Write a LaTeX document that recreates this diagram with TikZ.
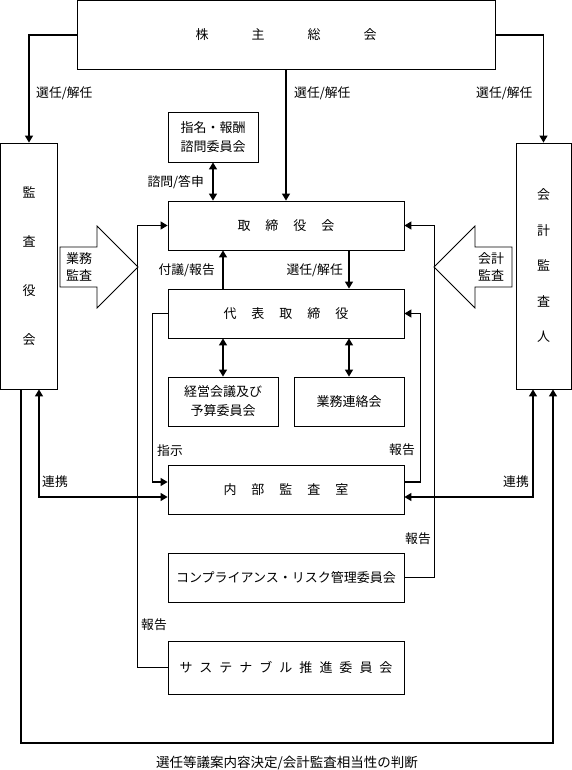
\documentclass[tikz,border=0pt]{standalone}
\usepackage{fontspec}
\setmainfont{Noto Sans CJK JP}
\usetikzlibrary{arrows.meta,calc}

\tikzset{
  box/.style={draw, line width=0.8pt, minimum width=236pt, minimum height=49pt,
    inner sep=0pt, font=\fontsize{13}{16}\selectfont},
  conn/.style={line width=1.2pt, -{Triangle[length=7pt,width=8pt]}},
  biconn/.style={line width=1.2pt, {Triangle[length=7pt,width=8pt]}-{Triangle[length=7pt,width=8pt]}},
  plain/.style={line width=1.2pt},
  lbl/.style={font=\fontsize{12.8}{15}\selectfont, inner sep=0pt},
  blockarrow/.style={draw, line width=0.8pt, fill=white}
}

\begin{document}
\begin{tikzpicture}[x=1pt, y=-1pt]
  \useasboundingbox (0,0) rectangle (572,770);

  % boxes
  \node[box, minimum width=418pt, minimum height=69pt] (soukai) at (286,35)
    {株\hspace{43pt}主\hspace{43pt}総\hspace{43pt}会};
  \node[box, minimum width=57pt, minimum height=246pt, align=center,
    font=\fontsize{13}{49}\selectfont] (kansayaku) at (29,266) {監\\査\\役\\会};
  \node[box, minimum width=55pt, minimum height=246pt, align=center,
    font=\fontsize{13}{35.5}\selectfont] (kaikei) at (543.5,266) {会\\計\\監\\査\\人};
  \node[box, minimum width=90pt, minimum height=50pt, align=center,
    font=\fontsize{13}{19}\selectfont] (shimei) at (213,137) {指名・報酬\\諮問委員会};
  \node[box] (torishimari) at (286,225.5) {取\hspace{15pt}締\hspace{15pt}役\hspace{15pt}会};
  \node[box] (daihyo) at (286,313.5) {代\hspace{15pt}表\hspace{15pt}取\hspace{15pt}締\hspace{15pt}役};
  \node[box, minimum width=110pt, align=center, font=\fontsize{13}{19}\selectfont]
    (keiei) at (223,401.5) {経営会議及び\\予算委員会};
  \node[box, minimum width=110pt] (renraku) at (349,401.5) {業務連絡会};
  \node[box] (naibu) at (286,489.5) {内\hspace{15pt}部\hspace{15pt}監\hspace{15pt}査\hspace{15pt}室};
  \node[box] (crm) at (286,577.5) {コンプライアンス・リスク管理委員会};
  \node[box, minimum height=53pt] (sustain) at (286,667.5)
    {サ\hspace{7pt}ス\hspace{7pt}テ\hspace{7pt}ナ\hspace{7pt}ブ\hspace{7pt}ル\hspace{7pt}推\hspace{7pt}進\hspace{7pt}委\hspace{7pt}員\hspace{7pt}会};

  % loop at the bottom
  \coordinate (loopR) at (553,743);

  % connectors
  \draw[conn] (soukai.west) -| (kansayaku.north);
  \draw[conn] (soukai.east) -| (kaikei.north);
  \draw[conn] (soukai.south) -- (torishimari.north);
  \draw[biconn] (shimei.south) -- (shimei.south |- torishimari.north);
  \draw[conn] (daihyo.north -| keiei.north) -- (torishimari.south -| keiei.north);
  \draw[conn] (torishimari.south -| renraku.north) -- (daihyo.north -| renraku.north);
  \draw[biconn] (daihyo.south -| keiei.north) -- (keiei.north);
  \draw[biconn] (daihyo.south -| renraku.north) -- (renraku.north);
  \draw[conn] (daihyo.west) -- ++(-15,0) |- ($(naibu.west)+(0,-7.5)$);
  \draw[conn] ($(naibu.east)+(0,-7.5)$) -- ++(16,0) |- (daihyo.east);
  \draw[biconn] ($(naibu.west)+(0,7.5)$) -| ($(kansayaku.south)+(10,0)$);
  \draw[biconn] ($(naibu.east)+(0,7.5)$) -| ($(kaikei.south)+(-10.5,0)$);
  \draw[conn] (crm.east) -- ++(30,0) |- (torishimari.east);
  \draw[conn] (sustain.west) -- ++(-30,0) |- (torishimari.west);
  \draw[conn] ($(kansayaku.south)+(-8,0)$) |- (loopR) -- ($(kaikei.south)+(9.5,0)$);

  % block arrows
  \draw[blockarrow] (60,247) -- (97,247) -- (97,226) -- (138,267) -- (97,308)
    -- (97,287) -- (60,287) -- cycle;
  \node[lbl, align=center, font=\fontsize{13}{17}\selectfont] (gyomukansa) at (79,267) {業務\\監査};
  \draw[blockarrow] (512,247) -- (475,247) -- (475,226) -- (434,267) -- (475,308)
    -- (475,287) -- (512,287) -- cycle;
  \node[lbl, align=center, font=\fontsize{13}{17}\selectfont] (kaikeikansa) at (491,267) {会計\\監査};

  % labels
  \node[lbl, anchor=west] (senninL) at (36,93) {選任/解任};
  \node[lbl, anchor=west] (senninM) at (294,93) {選任/解任};
  \node[lbl, anchor=west] (senninR) at (476,93) {選任/解任};
  \node[lbl, anchor=east] (shimon) at (204,182) {諮問/答申};
  \node[lbl, anchor=east] (fugi) at (215,270) {付議/報告};
  \node[lbl, anchor=east] (senninD) at (343,270) {選任/解任};
  \node[lbl, anchor=west] (shiji) at (157,451) {指示};
  \node[lbl, anchor=east] (hokokuN) at (415,450) {報告};
  \node[lbl, anchor=east] (hokokuC) at (431,539) {報告};
  \node[lbl, anchor=west] (hokokuS) at (141,625) {報告};
  \node[lbl, anchor=west] (renkeiL) at (42,482) {連携};
  \node[lbl, anchor=east] (renkeiR) at (529,482) {連携};
  \node[lbl, font=\fontsize{13.5}{16}\selectfont] (handan) at (287,763) {選任等議案内容決定/会計監査相当性の判断};
\end{tikzpicture}
\end{document}
